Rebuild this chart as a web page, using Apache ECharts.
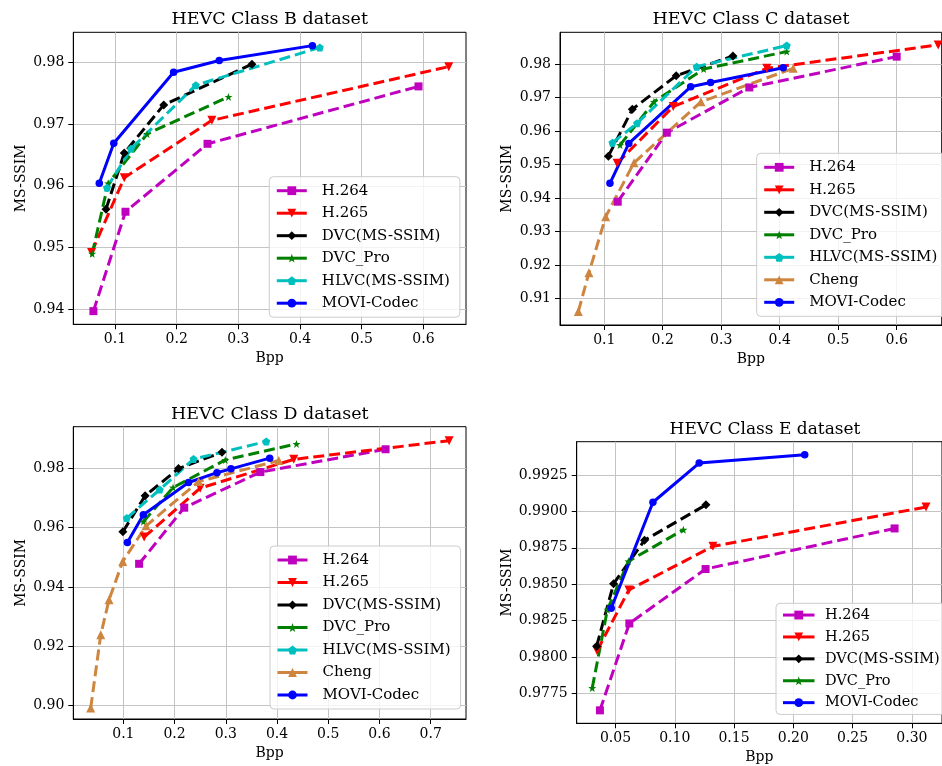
<!DOCTYPE html>
<html>
<head>
<meta charset="utf-8">
<script src="https://cdn.jsdelivr.net/npm/echarts@6/dist/echarts.min.js"></script>
<style>html,body{margin:0;padding:0;background:#fff}#c{width:942px;height:766px}</style>
</head>
<body>
<div id="c"></div>
<script>
// ---------- Data (Bpp, MS-SSIM) ----------
// Class B
const B_H264 = [[0.065,0.9397],[0.117,0.9558],[0.250,0.9668],[0.592,0.9761]];
const B_H265 = [[0.062,0.9492],[0.115,0.9613],[0.257,0.9706],[0.641,0.9793]];
const B_DVC  = [[0.0854,0.9562],[0.115,0.9653],[0.179,0.9731],[0.322,0.9797]];
const B_DVCPro = [[0.063,0.9490],[0.089,0.9604],[0.152,0.9684],[0.284,0.9744]];
const B_HLVC = [[0.087,0.9597],[0.126,0.9660],[0.231,0.9763],[0.432,0.9824]];
const B_MOVI = [[0.0745,0.9604],[0.098,0.9669],[0.195,0.9784],[0.269,0.9803],[0.420,0.9827]];
// Class C
const C_H264 = [[0.123,0.9389],[0.207,0.9595],[0.348,0.9730],[0.600,0.9822]];
const C_H265 = [[0.122,0.9504],[0.218,0.9673],[0.378,0.9787],[0.671,0.9857]];
const C_DVC  = [[0.107,0.9525],[0.148,0.9665],[0.223,0.9765],[0.320,0.9824]];
const C_DVCPro = [[0.127,0.9558],[0.185,0.9687],[0.270,0.9785],[0.412,0.9837]];
const C_HLVC = [[0.114,0.9565],[0.156,0.9623],[0.258,0.9792],[0.412,0.9855]];
const C_Cheng = [[0.0556,0.9061],[0.0738,0.9177],[0.1024,0.9344],[0.1508,0.9505],[0.2653,0.9687],[0.423,0.9787]];
const C_MOVI = [[0.1097,0.9444],[0.142,0.9563],[0.2477,0.9732],[0.2818,0.9745],[0.406,0.9789]];
// Class D
const D_H264 = [[0.1307,0.9478],[0.2188,0.9667],[0.3675,0.9787],[0.612,0.9864]];
const D_H265 = [[0.1405,0.9568],[0.250,0.9733],[0.4327,0.9830],[0.736,0.9893]];
const D_DVC  = [[0.099,0.9586],[0.1425,0.9707],[0.2076,0.9799],[0.2926,0.9854]];
const D_DVCPro = [[0.139,0.9620],[0.197,0.9735],[0.299,0.9828],[0.438,0.9882]];
const D_HLVC = [[0.1066,0.9632],[0.171,0.9728],[0.237,0.9831],[0.379,0.9890]];
const D_Cheng = [[0.0362,0.8992],[0.0558,0.9239],[0.072,0.9357],[0.0988,0.9486],[0.1444,0.9606],[0.2468,0.9755],[0.4034,0.9826]];
const D_MOVI = [[0.1078,0.9550],[0.139,0.9643],[0.2272,0.9752],[0.2827,0.9785],[0.310,0.9798],[0.3857,0.9834]];
// Class E
const E_H264 = [[0.0369,0.97633],[0.0617,0.98230],[0.1260,0.98604],[0.2854,0.98883]];
const E_H265 = [[0.0345,0.98043],[0.0613,0.98460],[0.1322,0.98760],[0.3119,0.99030]];
const E_DVC  = [[0.0341,0.98073],[0.0484,0.98503],[0.0745,0.98802],[0.1263,0.99045]];
const E_DVCPro = [[0.0304,0.97787],[0.0432,0.98325],[0.0609,0.98657],[0.1073,0.98874]];
const E_MOVI = [[0.0464,0.98335],[0.0816,0.99063],[0.1206,0.99332],[0.2096,0.99389]];

// ---------- Tick labels ----------
const B_xTicks = [0.1,0.2,0.3,0.4,0.5,0.6];
const B_yTicks = [0.94,0.95,0.96,0.97,0.98];
const C_xTicks = [0.1,0.2,0.3,0.4,0.5,0.6];
const C_yTicks = [0.91,0.92,0.93,0.94,0.95,0.96,0.97,0.98];
const D_xTicks = [0.1,0.2,0.3,0.4,0.5,0.6,0.7];
const D_yTicks = [0.90,0.92,0.94,0.96,0.98];
const E_xTicks = [0.05,0.10,0.15,0.20,0.25,0.30];
const E_yTicks = [0.9775,0.9800,0.9825,0.9850,0.9875,0.9900,0.9925];

const titles = ['HEVC Class B dataset','HEVC Class C dataset','HEVC Class D dataset','HEVC Class E dataset'];

// ---------- Styles ----------
const FONT = 'DejaVu Serif';
const STAR = 'path://M0,-10L2.35,-3.24L9.51,-3.09L3.8,1.24L5.88,8.09L0,4L-5.88,8.09L-3.8,1.24L-9.51,-3.09L-2.35,-3.24Z';
const PENT = 'path://M0,-10L9.51,-3.09L5.88,8.09L-5.88,8.09L-9.51,-3.09Z';
const DTRI = 'path://M-10,-8L10,-8L0,9Z';
const DIAM = 'path://M0,-10L10,0L0,10L-10,0Z';
const UTRI = 'path://M-10,8L10,8L0,-9Z';
const STY = {
  'H.264':        {color:'#bf00bf', symbol:'rect', size:8, dash:true},
  'H.265':        {color:'#ff0000', symbol:DTRI, size:9, dash:true},
  'DVC(MS-SSIM)': {color:'#000000', symbol:DIAM, size:9, dash:true},
  'DVC_Pro':      {color:'#008000', symbol:STAR, size:8, dash:true},
  'HLVC(MS-SSIM)':{color:'#00bfbf', symbol:PENT, size:8, dash:true},
  'Cheng':        {color:'#cd853f', symbol:UTRI, size:9, dash:true},
  'MOVI-Codec':   {color:'#0000ff', symbol:'circle', size:7.5, dash:false}
};

const panels = [
  {grid:{left:73.3, top:32.3, width:392.7, height:292}, x:[0.0324,0.669], y:[0.93757,0.98486],
   xt:B_xTicks, yt:B_yTicks, xd:1, yd:2, title:{x:269.7, y:9, size:17.5}, yGap:45,
   legend:{left:269.3, top:176.7, itemWidth:30, fontSize:15, textPad:10, pad:[6,10,6,6], itemGap:6.5, lineHeight:16},
   series:[['H.264',B_H264],['H.265',B_H265],['DVC(MS-SSIM)',B_DVC],['DVC_Pro',B_DVCPro],['HLVC(MS-SSIM)',B_HLVC],['MOVI-Codec',B_MOVI]]},
  {grid:{left:560, top:32.3, width:381.7, height:292.7}, x:[0.0243,0.677], y:[0.9021,0.98946],
   xt:C_xTicks, yt:C_yTicks, xd:1, yd:2, title:{x:751, y:9, size:17.5}, yGap:45.5,
   legend:{left:756.7, top:153.3, itemWidth:30, fontSize:15, textPad:10, pad:[6,10,6,6], itemGap:6.5, lineHeight:16},
   series:[['H.264',C_H264],['H.265',C_H265],['DVC(MS-SSIM)',C_DVC],['DVC_Pro',C_DVCPro],['HLVC(MS-SSIM)',C_HLVC],['Cheng',C_Cheng],['MOVI-Codec',C_MOVI]]},
  {grid:{left:73.3, top:426.7, width:392.7, height:292.3}, x:[0.0022,0.769], y:[0.8955,0.994],
   xt:D_xTicks, yt:D_yTicks, xd:1, yd:2, title:{x:269.7, y:404, size:17.5}, yGap:45,
   legend:{left:270, top:546, itemWidth:30, fontSize:15, textPad:10, pad:[6,10,6,6], itemGap:6.5, lineHeight:16},
   series:[['H.264',D_H264],['H.265',D_H265],['DVC(MS-SSIM)',D_DVC],['DVC_Pro',D_DVCPro],['HLVC(MS-SSIM)',D_HLVC],['Cheng',D_Cheng],['MOVI-Codec',D_MOVI]]},
  {grid:{left:576.7, top:441.7, width:376.6, height:281.6}, x:[0.0173,0.3254], y:[0.97544,0.99479],
   xt:E_xTicks, yt:E_yTicks, xd:2, yd:4, title:{x:765, y:420, size:17}, yGap:56,
   legend:{left:776, top:603.3, itemWidth:31.5, fontSize:14.5, textPad:5.5, pad:[4,10,4,5.5], itemGap:6.4, lineHeight:15.5},
   series:[['H.264',E_H264],['H.265',E_H265],['DVC(MS-SSIM)',E_DVC],['DVC_Pro',E_DVCPro],['MOVI-Codec',E_MOVI]]}
];

const option = {animation:false, backgroundColor:'#fff', title:[], grid:[], xAxis:[], yAxis:[], legend:[], series:[]};

function axisCommon(ticks, dec){
  return {
    type:'value', scale:true,
    axisLine:{show:true, onZero:false, lineStyle:{color:'#000', width:1}},
    axisTick:{show:true, inside:false, length:5, customValues:ticks, lineStyle:{color:'#000'}},
    axisLabel:{customValues:ticks, formatter:(v)=>Number(v).toFixed(dec), fontFamily:FONT, fontSize:14, color:'#000', margin:8},
    splitLine:{show:true, lineStyle:{color:'#c4c4c4', width:1}},
    nameTextStyle:{fontFamily:FONT, fontSize:14, color:'#000'}
  };
}

panels.forEach((p, i) => {
  option.grid.push(Object.assign({show:true, borderColor:'#000', borderWidth:1, containLabel:false}, p.grid));
  option.title.push({text:titles[i], left:p.title.x, top:p.title.y, textAlign:'center', padding:0,
    textStyle:{fontFamily:FONT, fontSize:p.title.size, fontWeight:'normal', color:'#000', lineHeight:20}});
  const xa = axisCommon(p.xt, p.xd);
  Object.assign(xa, {gridIndex:i, min:p.x[0], max:p.x[1], name:'Bpp', nameLocation:'middle', nameGap:27});
  option.xAxis.push(xa);
  const ya = axisCommon(p.yt, p.yd);
  ya.axisLabel.margin = 9;
  Object.assign(ya, {gridIndex:i, min:p.y[0], max:p.y[1], name:'MS-SSIM', nameLocation:'middle', nameRotate:90, nameGap:p.yGap});
  option.yAxis.push(ya);
  const L = p.legend;
  option.legend.push({
    orient:'vertical', left:L.left, top:L.top, selectedMode:false,
    data:p.series.map(s=>s[0]),
    itemWidth:L.itemWidth, itemHeight:11, itemGap:L.itemGap, padding:L.pad,
    backgroundColor:'rgba(255,255,255,0.8)', borderColor:'#cccccc', borderWidth:1, borderRadius:4,
    lineStyle:{type:'solid', width:3},
    textStyle:{fontFamily:FONT, fontSize:L.fontSize, color:'#000', lineHeight:L.lineHeight, padding:[0,0,0,L.textPad]}
  });
  p.series.forEach(([name, data]) => {
    const s = STY[name];
    option.series.push({
      type:'line', name:name, data:data, xAxisIndex:i, yAxisIndex:i,
      symbol:s.symbol, symbolSize:s.size, showAllSymbol:true, clip:false,
      color:s.color,
      lineStyle:{color:s.color, width:3, type: s.dash ? [11,5] : 'solid'},
      itemStyle:{color:s.color, borderWidth:0},
      emphasis:{disabled:true}
    });
  });
});

const chart = echarts.init(document.getElementById('c'), null, {renderer:'canvas'});
chart.setOption(option);
</script>
</body>
</html>
